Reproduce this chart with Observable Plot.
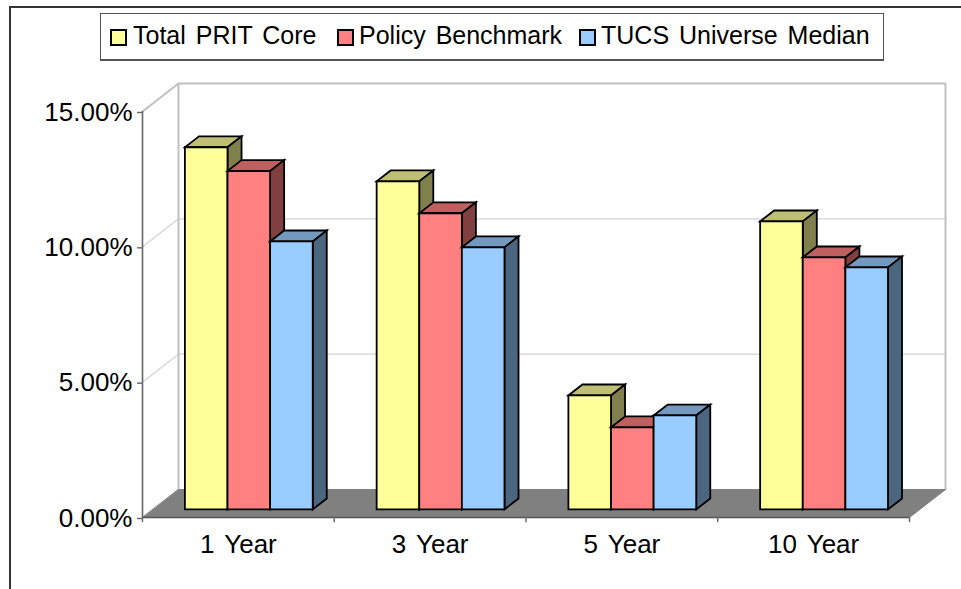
<!DOCTYPE html>
<html>
<head>
<meta charset="utf-8">
<script src="https://cdn.jsdelivr.net/npm/d3@7"></script>
<script src="https://cdn.jsdelivr.net/npm/@observablehq/plot@0.6"></script>
<style>
html,body{margin:0;padding:0;background:#fff;overflow:hidden;width:961px;height:589px}
body{font-family:"Liberation Sans",Arial,sans-serif;color:#000;position:relative}
#frame{position:absolute;left:9px;top:6px;width:960px;height:600px;border-top:2px solid #333;border-left:2px solid #333;box-sizing:border-box}
#legendRow{position:relative;height:61px}
#legend{position:absolute;left:100px;top:13px;width:784px;height:48px;box-sizing:border-box;border:1px solid #555;border-bottom-width:2px;background:#fff}
.sw{position:absolute;top:15px;width:13px;height:13px;border:2px solid #000}
.lb{position:absolute;top:3px;font-size:25px;line-height:36px;white-space:nowrap;word-spacing:3px}
svg{display:block;position:relative}
svg text{word-spacing:3px}
</style>
</head>
<body>
<div id="frame"></div>
<div id="legendRow"><div id="legend"></div></div>
<div id="chart"></div>
<script>
const categories = ["1 Year", "3 Year", "5 Year", "10 Year"];
const seriesNames = ["Total PRIT Core", "Policy Benchmark", "TUCS Universe Median"];
const totalPrit = [13.38, 12.12, 4.21, 10.64];
const policyBenchmark = [12.5, 10.94, 3.03, 9.31];
const tucsMedian = [9.9, 9.68, 3.47, 8.94];
const yTicks = [0, 5, 10, 15];
const frontColors = ["#FFFF99", "#FF8080", "#99CCFF"];
const topColors = ["#BFBF73", "#BF6060", "#7399BF"];
const sideColors = ["#80804D", "#804040", "#4D6680"];
const seriesValues = [totalPrit, policyBenchmark, tucsMedian];

// oblique projection: depth 1 = full floor depth, expressed in data units
const depthX = 0.1877, depthY = 1.034;
const barFront = 0.29, barBack = 0.68;
const groupPad = 1 / 6, barW = 2 / 9;
const P = (x, y, d) => ({x: x + d * depthX, y: y + d * depthY});

const faces = [];
function face(id, color, pts) { pts.forEach(p => faces.push({...p, id, color})); }
categories.forEach((c, i) => {
  seriesValues.forEach((vals, s) => {
    const v = vals[i];
    const x0 = i + groupPad + s * barW, x1 = x0 + barW;
    face(`${i}-${s}-top`, topColors[s], [P(x0, v, barFront), P(x1, v, barFront), P(x1, v, barBack), P(x0, v, barBack)]);
    face(`${i}-${s}-side`, sideColors[s], [P(x1, 0, barFront), P(x1, 0, barBack), P(x1, v, barBack), P(x1, v, barFront)]);
    face(`${i}-${s}-front`, frontColors[s], [P(x0, 0, barFront), P(x1, 0, barFront), P(x1, v, barFront), P(x0, v, barFront)]);
  });
});

const n = categories.length;
const tickLen = 0.19;
const floor = [P(0, 0, 0), P(n, 0, 0), P(n, 0, 1), P(0, 0, 1)];
const wall = [P(0, 15, 0), P(0, 15, 1), P(n, 15, 1), P(n, 0, 1)];
const wallLeft = [P(0, 15, 1), P(0, 0, 1)];
const grid = [5, 10].flatMap(t => [
  {...P(0, t, 0), t}, {...P(0, t, 1), t}, {...P(n, t, 1), t}
]);

const plot = Plot.plot({
  width: 961,
  height: 528,
  marginTop: 50,
  marginBottom: 72,
  marginLeft: 142,
  marginRight: 52,
  style: {fontFamily: '"Liberation Sans",Arial,sans-serif', fontSize: "26px", color: "#000", background: "transparent", overflow: "visible"},
  x: {type: "linear", domain: [0, n], axis: null},
  y: {type: "linear", domain: [0, 15], axis: null},
  color: {type: "identity"},
  marks: [
    Plot.line(grid, {x: "x", y: "y", z: "t", stroke: "#d4d4d4", strokeWidth: 1.2}),
    Plot.line(wall, {x: "x", y: "y", stroke: "#c0c0c0", strokeWidth: 2, strokeLinejoin: "miter"}),
    Plot.line(wallLeft, {x: "x", y: "y", stroke: "#c0c0c0", strokeWidth: 2}),
    Plot.line(floor, {x: "x", y: "y", fill: "#808080", stroke: "#808080", strokeWidth: 1, curve: "linear-closed"}),
    Plot.line(faces, {x: "x", y: "y", z: "id", fill: "color", stroke: "#000", strokeWidth: 1.8, curve: "linear-closed", strokeLinejoin: "miter", strokeMiterlimit: 10}),
    Plot.ruleX([0], {y1: 0, y2: 15, stroke: "#666", strokeWidth: 1.6}),
    Plot.ruleY([0], {x1: 0, x2: n, stroke: "#555", strokeWidth: 1.6}),
    Plot.axisY({ticks: yTicks, tickFormat: d => d.toFixed(2) + "%", tickSize: 5, tickPadding: 5, stroke: "#666", strokeWidth: 1.4, fontSize: 26, color: "#000", label: null, dy: 1}),
    Plot.ruleX(d3.range(n + 1), {y1: 0, y2: -tickLen, stroke: "#666", strokeWidth: 1.4}),
    Plot.text(categories, {x: (d, i) => i + 0.5, y: 0, text: d => d, dy: 27, fontSize: 26, fill: "#000"})
  ]
});
document.getElementById("chart").append(plot);

const swLeft = [9, 236, 478];
const lbLeft = [32, 258, 500];
const legend = document.getElementById("legend");
seriesNames.forEach((name, i) => {
  const sw = document.createElement("div");
  sw.className = "sw"; sw.style.left = swLeft[i] + "px"; sw.style.background = frontColors[i];
  const lb = document.createElement("div");
  lb.className = "lb"; lb.style.left = lbLeft[i] + "px"; lb.textContent = name;
  legend.append(sw, lb);
});
</script>
</body>
</html>
